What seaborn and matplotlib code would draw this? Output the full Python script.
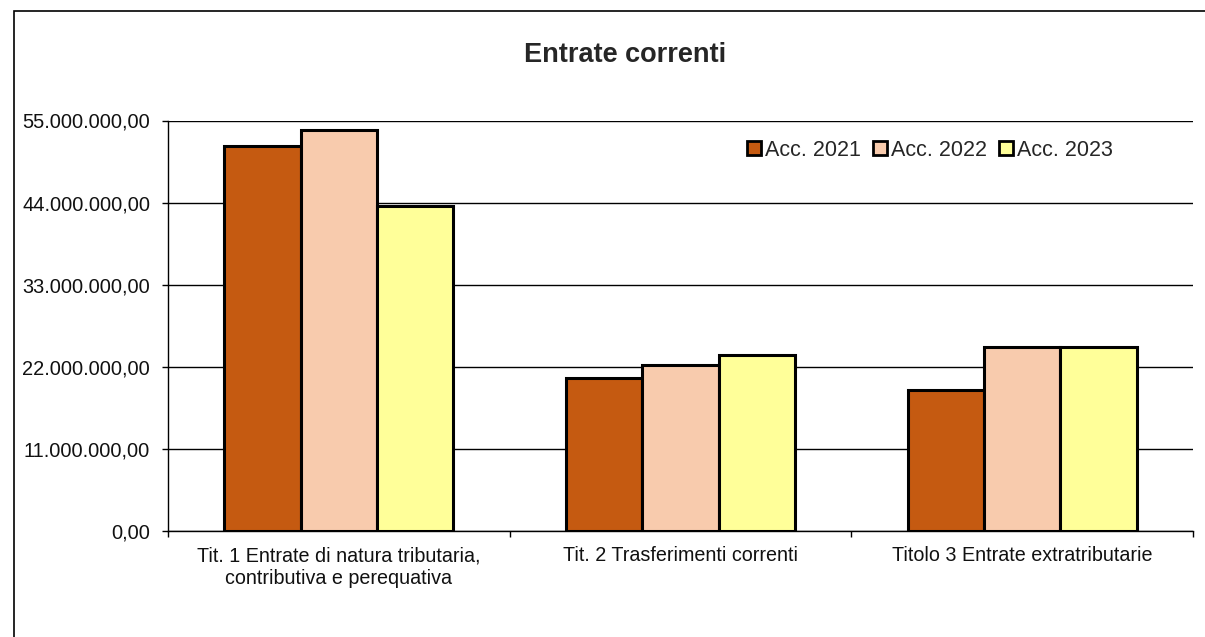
import numpy as np
import pandas as pd
import matplotlib
matplotlib.use("Agg")
import matplotlib.pyplot as plt
import seaborn as sns
from matplotlib.ticker import FuncFormatter, FixedLocator
from matplotlib.patches import Rectangle

# data
categories = ["Tit. 1 Entrate di natura tributaria,\ncontributiva e perequativa",
              "Tit. 2 Trasferimenti correnti",
              "Titolo 3 Entrate extratributarie"]
years = ["Acc. 2021", "Acc. 2022", "Acc. 2023"]
acc_2021 = [51580000, 20460000, 18890000]
acc_2022 = [53730000, 22280000, 24650000]
acc_2023 = [43580000, 23580000, 24650000]
colors = ["#C55A11", "#F8CBAD", "#FFFF99"]

df = pd.DataFrame({
    "categoria": categories * 3,
    "anno": [y for y in years for _ in categories],
    "valore": acc_2021 + acc_2022 + acc_2023,
})

sns.set_style("white")
plt.rcParams["font.family"] = ["Liberation Sans", "DejaVu Sans"]

fig = plt.figure(figsize=(12.05, 6.37), dpi=100)
ax = fig.add_axes([168 / 1205, 1 - 531 / 637, (1193 - 168) / 1205, (531 - 120.5) / 637])

sns.barplot(data=df, x="categoria", y="valore", hue="anno", palette=colors,
            width=0.67, gap=0, edgecolor="black", linewidth=2.2, saturation=1,
            ax=ax, zorder=3)

ax.set_ylim(0, 55000000)
ax.set_xlim(-0.5, 2.5)
ax.set_yticks(np.arange(0, 55000001, 11000000))

def it_fmt(v, pos):
    s = f"{v:,.2f}"
    return s.replace(",", "X").replace(".", ",").replace("X", ".")

ax.yaxis.set_major_formatter(FuncFormatter(it_fmt))
ax.grid(axis="y", color="black", linewidth=1, zorder=0)
ax.set_axisbelow(True)
ax.set_xlabel("")
ax.set_ylabel("")

for side in ["top", "right"]:
    ax.spines[side].set_visible(False)
for side in ["left", "bottom"]:
    ax.spines[side].set_color("black")
    ax.spines[side].set_linewidth(1)

ax.tick_params(axis="y", which="major", left=True, length=4.3, width=1,
               color="black", pad=8.5, labelsize=14.4, labelcolor="#111111")
ax.tick_params(axis="x", which="major", length=0, pad=11, labelsize=14.2,
               labelcolor="#111111")
ax.xaxis.set_minor_locator(FixedLocator([-0.5, 0.5, 1.5, 2.5]))
ax.tick_params(axis="x", which="minor", bottom=True, length=4.3, width=1, color="black")
for lab in ax.get_xticklabels():
    lab.set_linespacing(1.25)

leg = ax.legend(loc="upper left", bbox_to_anchor=(0.546, 1.0), ncol=3, frameon=False,
                fontsize=15.5, handlelength=0.65, handleheight=0.65, handletextpad=0.2,
                columnspacing=0.55)
for h in leg.legend_handles:
    h.set_edgecolor("black")
    h.set_linewidth(2)

fig.text(625 / 1205, 1 - 55 / 637, "Entrate correnti", ha="center", va="center",
         fontsize=19.5, fontweight="bold")

# outer chart frame
fig.patches.append(Rectangle((14 / 1205, -0.1), 1.2, 1 - 11 / 637 + 0.1,
                             transform=fig.transFigure, fill=False,
                             edgecolor="black", linewidth=1.2))

fig.savefig("out.png", dpi=100)
